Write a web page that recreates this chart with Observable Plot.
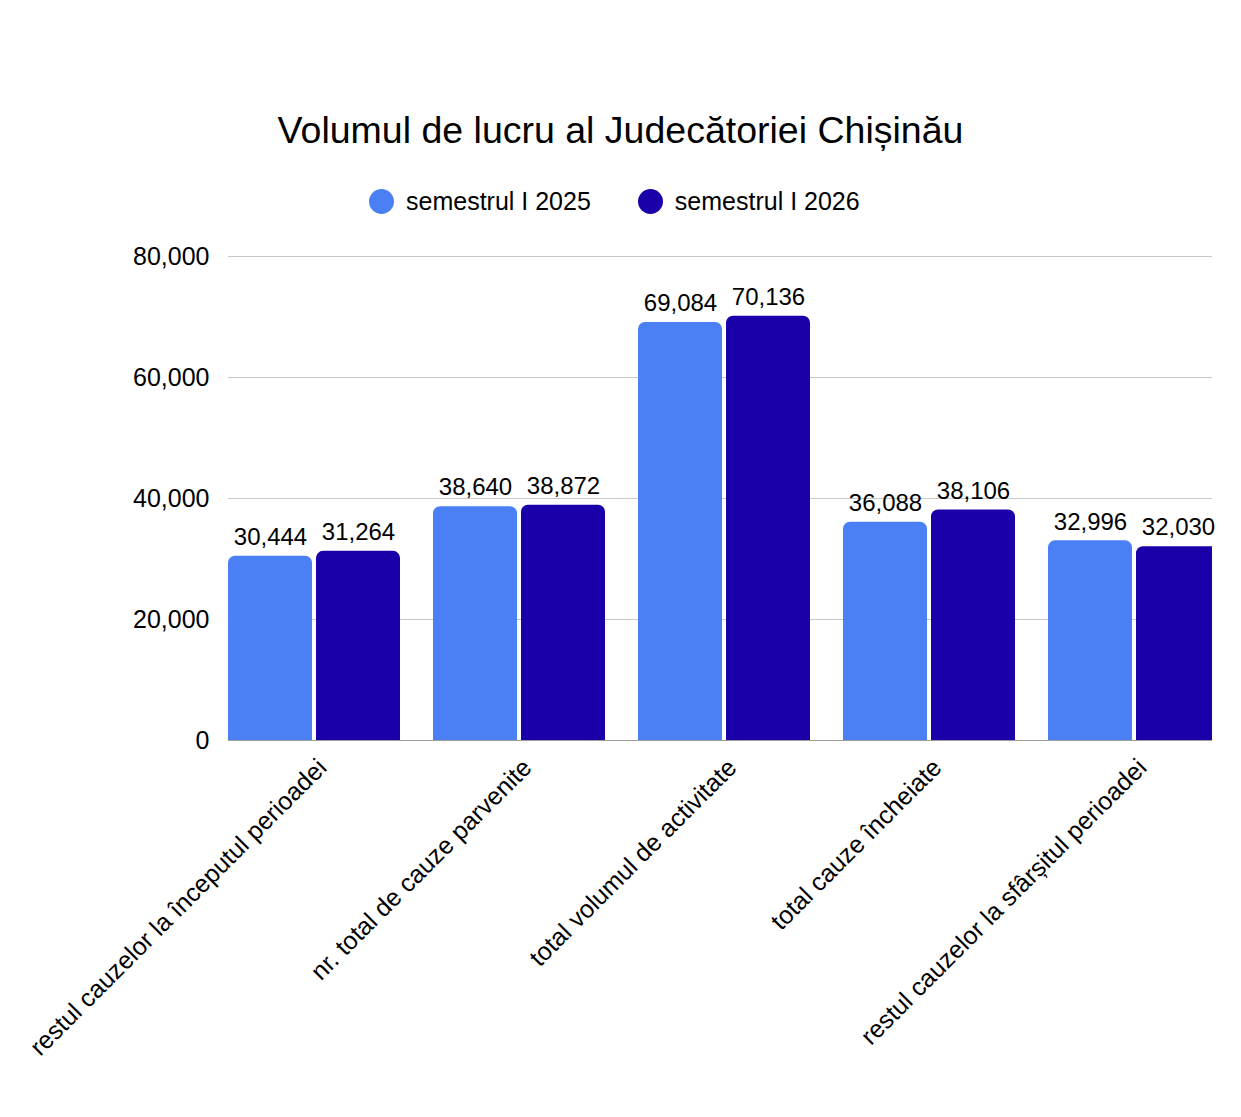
<!DOCTYPE html>
<html>
<head>
<meta charset="utf-8">
<script src="https://cdn.jsdelivr.net/npm/d3@7"></script>
<script src="https://cdn.jsdelivr.net/npm/@observablehq/plot@0.6"></script>
<style>
  html, body { margin: 0; padding: 0; background: #fff; }
  body { width: 1241px; font-family: "Liberation Sans", Arial, sans-serif; color: #000; }
  #title { padding-top: 112px; height: 37px; line-height: 37px; font-size: 37.5px; text-align: center; }
  #legend { height: 26px; padding-top: 39px; margin-bottom: 16px; padding-left: 369px; display: flex; align-items: center; font-size: 25px; }
  #legend .item { display: flex; align-items: center; height: 26px; }
  #legend .dot { width: 25px; height: 25px; border-radius: 50%; margin-right: 12px; }
  #legend .item + .item { margin-left: 47px; }
  #chart svg { display: block; }
</style>
</head>
<body>
<div id="title">Volumul de lucru al Judecătoriei Chișinău</div>
<div id="legend"></div>
<div id="chart"></div>
<script>
const categories = [
  "restul cauzelor la începutul perioadei",
  "nr. total de cauze parvenite",
  "total volumul de activitate",
  "total cauze încheiate",
  "restul cauzelor la sfârșitul perioadei"
];
const seriesNames = ["semestrul I 2025", "semestrul I 2026"];
const values2025 = [30444, 38640, 69084, 36088, 32996];
const values2026 = [31264, 38872, 70136, 38106, 32030];
const yTicks = [0, 20000, 40000, 60000, 80000];
const colors = ["#4b80f5", "#1900a9"];

const rows2025 = categories.map((c, i) => ({cat: c, value: values2025[i]}));
const rows2026 = categories.map((c, i) => ({cat: c, value: values2026[i]}));
const fmt = d3.format(",");

const legend = document.getElementById("legend");
seriesNames.forEach((name, i) => {
  const item = document.createElement("div");
  item.className = "item";
  item.innerHTML = `<span class="dot" style="background:${colors[i]}"></span><span>${name}</span>`;
  legend.appendChild(item);
});

const chart = Plot.plot({
  width: 1241,
  height: 887,
  marginLeft: 228,
  marginRight: 29,
  marginTop: 26,
  marginBottom: 377,
  style: {fontFamily: "Liberation Sans, Arial, sans-serif", fontSize: "24px", color: "#000", background: "#fff"},
  x: {domain: categories, range: [228, 1220], paddingInner: 33 / 205, paddingOuter: 0, round: false},
  y: {domain: [0, 80000]},
  marks: [
    Plot.gridY(yTicks.slice(1), {stroke: "#c8c8c8", strokeOpacity: 1}),
    Plot.ruleY([0], {stroke: "#9e9e9e"}),
    Plot.barY(rows2025, {x: "cat", y: "value", fill: colors[0], insetRight: 88, insetBottom: -10, rx: 7, clip: true}),
    Plot.barY(rows2026, {x: "cat", y: "value", fill: colors[1], insetLeft: 88, insetBottom: -10, rx: 7, clip: true}),
    Plot.text(rows2025, {x: "cat", y: "value", text: d => fmt(d.value), dx: -44, dy: -19, fontSize: 24, fill: "#000"}),
    Plot.text(rows2026, {x: "cat", y: "value", text: d => fmt(d.value), dx: 44, dy: -19, fontSize: 24, fill: "#000"}),
    Plot.axisY({ticks: yTicks, tickFormat: d => fmt(d), tickSize: 0, tickPadding: 19, fontSize: 25, label: null, fill: "#000"}),
    Plot.axisX({tickRotate: -45, tickSize: 0, tickPadding: 23, dx: 8, fontSize: 25, label: null, fill: "#000"})
  ]
});
document.getElementById("chart").appendChild(chart);
</script>
</body>
</html>
